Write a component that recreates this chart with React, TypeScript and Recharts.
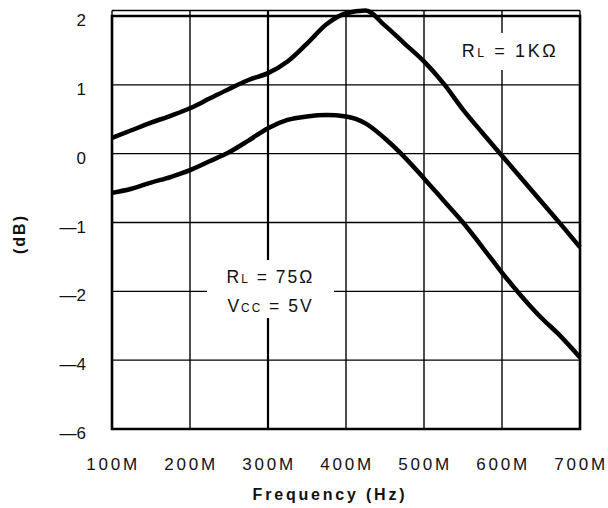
import React from "react";
import {
  LineChart,
  Line,
  XAxis,
  YAxis,
  CartesianGrid,
  ReferenceArea,
  ReferenceLine
} from "recharts";

// frequency in MHz
const FREQ = [
  100, 125, 150, 175, 200, 225, 250, 275, 300, 325, 350, 375, 400,
  425, 450, 475, 500, 525, 550, 575, 600, 625, 650, 675, 700
];

// gain, in grid rows (the printed axis labels are not evenly spaced)
const RL_1K = [
  0.23, 0.34, 0.45, 0.55, 0.66, 0.8, 0.94, 1.07, 1.17, 1.34, 1.6, 1.88, 2.04,
  2.08, 1.86, 1.6, 1.34, 1.02, 0.64, 0.3, -0.03, -0.36, -0.69, -1.02, -1.36
];

const RL_75 = [
  -0.57, -0.51, -0.42, -0.34, -0.24, -0.11, 0.02, 0.19, 0.37, 0.49, 0.54, 0.56, 0.54,
  0.44, 0.22, -0.05, -0.36, -0.68, -1.0, -1.36, -1.73, -2.07, -2.38, -2.65, -2.96
];

const X_TICKS = [100, 200, 300, 400, 500, 600, 700];
const Y_TICKS = [2, 1, 0, -1, -2, -3, -4];
const Y_LABELS = ["2", "1", "0", "\u20141", "\u20142", "\u20144", "\u20146"];

const data = FREQ.map((f, i) => ({ f, hi: RL_1K[i], lo: RL_75[i] }));

const FONT = '"Liberation Sans", Arial, Helvetica, sans-serif';

// plot box: top of "2" row at 16px, bottom at 429px
const ROW = (429 - 16) / 6;
const yMax = Math.max(2, ...RL_1K, ...RL_75);
const marginTop = 16 - (yMax - 2) * ROW;

function XTick(props: any) {
  const { x, y, payload } = props;
  return (
    <text
      x={x + 1}
      y={y + 39}
      textAnchor="middle"
      fontFamily={FONT}
      fontSize={17}
      letterSpacing={2.8}
      fill="#111"
    >
      {payload.value}M
    </text>
  );
}

function YTick(props: any) {
  const { x, y, payload } = props;
  const idx = Y_TICKS.indexOf(payload.value);
  return (
    <text
      x={x}
      y={y + 10}
      textAnchor="end"
      fontFamily={FONT}
      fontSize={17}
      fill="#111"
    >
      {Y_LABELS[idx]}
    </text>
  );
}

const small = { fontSize: "0.68em" };

export default function App() {
  return (
    <div
      style={{
        position: "absolute",
        left: 0,
        top: 0,
        width: 608,
        height: 508,
        background: "#fff",
        fontFamily: FONT,
        color: "#111"
      }}
    >
      <LineChart
        width={608}
        height={508}
        data={data}
        margin={{ top: marginTop, right: 28, bottom: 0, left: 0 }}
      >
        <CartesianGrid stroke="#000" strokeWidth={1.4} />
        <ReferenceLine x={300} stroke="#000" strokeWidth={2.2} />
        <XAxis
          type="number"
          dataKey="f"
          domain={[100, 700]}
          ticks={X_TICKS}
          height={79}
          axisLine={false}
          tickLine={false}
          tickSize={0}
          tick={<XTick />}
        />
        <YAxis
          type="number"
          domain={[-4, 2]}
          ticks={Y_TICKS}
          width={112}
          axisLine={false}
          tickLine={false}
          tickSize={0}
          tickMargin={26}
          tick={<YTick />}
        />
        <ReferenceArea
          x1={100}
          x2={700}
          y1={-4}
          y2={2}
          fill="none"
          fillOpacity={0}
          stroke="#000"
          strokeWidth={2.6}
        />
        <Line
          type="monotone"
          dataKey="hi"
          stroke="#000"
          strokeWidth={4.5}
          dot={false}
          isAnimationActive={false}
        />
        <Line
          type="monotone"
          dataKey="lo"
          stroke="#000"
          strokeWidth={4.5}
          dot={false}
          isAnimationActive={false}
        />
      </LineChart>

      {/* annotations */}
      <div
        style={{
          position: "absolute",
          left: 452,
          top: 33,
          width: 116,
          height: 37,
          background: "#fff",
          fontSize: 18,
          lineHeight: "37px",
          letterSpacing: 2.6,
          textAlign: "center"
        }}
      >
        R<span style={small}>L</span> = 1KΩ
      </div>
      <div
        style={{
          position: "absolute",
          left: 207,
          top: 260,
          width: 127,
          height: 58,
          background: "#fff",
          fontSize: 17.5,
          lineHeight: "27px",
          paddingTop: 4,
          boxSizing: "border-box",
          letterSpacing: 2,
          textAlign: "center"
        }}
      >
        <div>
          R<span style={small}>L</span> = 75Ω
        </div>
        <div>
          V<span style={small}>CC</span> = 5V
        </div>
      </div>

      {/* axis titles */}
      <div
        style={{
          position: "absolute",
          left: 230,
          top: 485,
          width: 200,
          textAlign: "center",
          fontWeight: "bold",
          fontSize: 16,
          letterSpacing: 2.8,
          lineHeight: "20px"
        }}
      >
        Frequency (Hz)
      </div>
      <div
        style={{
          position: "absolute",
          left: -20,
          top: 224,
          width: 80,
          textAlign: "center",
          fontWeight: "bold",
          fontSize: 16,
          letterSpacing: 2,
          lineHeight: "20px",
          transform: "rotate(-90deg)"
        }}
      >
        (dB)
      </div>
    </div>
  );
}
